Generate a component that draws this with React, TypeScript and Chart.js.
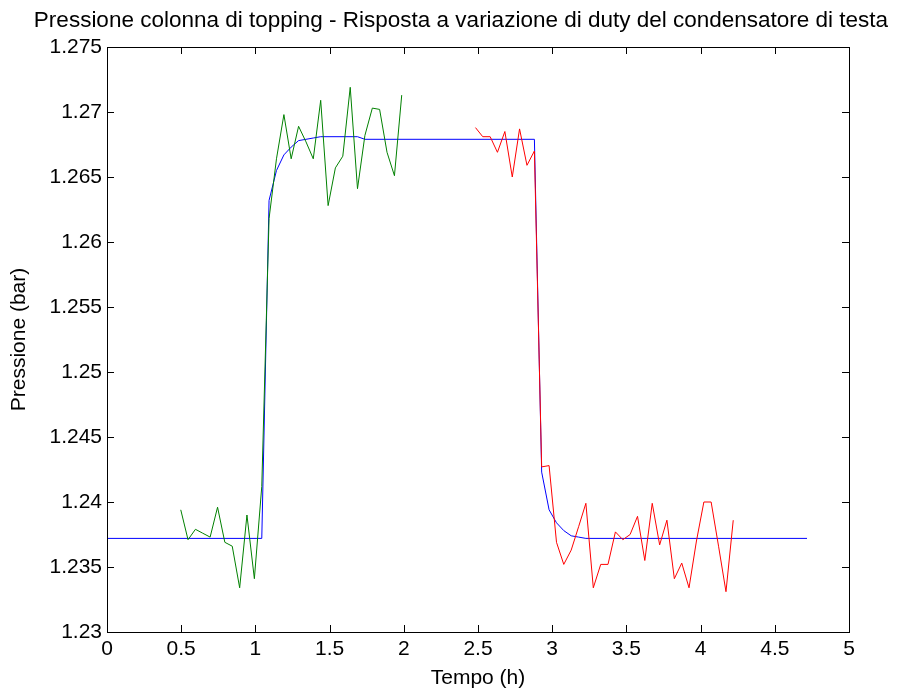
import React, { useEffect, useRef } from "react";
import { Chart, registerables } from "chart.js";

Chart.register(...registerables);

const titleText =
  "Pressione colonna di topping - Risposta a variazione di duty del condensatore di testa";
const xAxisLabel = "Tempo (h)";
const yAxisLabel = "Pressione (bar)";

const xTickValues = [0, 0.5, 1, 1.5, 2, 2.5, 3, 3.5, 4, 4.5, 5];
const yTickValues = [1.23, 1.235, 1.24, 1.245, 1.25, 1.255, 1.26, 1.265, 1.27, 1.275];

// Measured series (green)
const greenTime = [
  0.497, 0.546, 0.596, 0.645, 0.695, 0.745, 0.794, 0.844, 0.894, 0.943, 0.993, 1.043, 1.092,
  1.142, 1.192, 1.241, 1.291, 1.341, 1.39, 1.44, 1.49, 1.539, 1.589, 1.639, 1.688, 1.738,
  1.788, 1.837, 1.887, 1.937, 1.986,
];
const greenPressure = [
  1.2394, 1.2371, 1.2379, 1.2376, 1.2373, 1.2396, 1.2369, 1.2366, 1.2334, 1.239, 1.2341,
  1.2412, 1.2618, 1.2664, 1.2698, 1.2664, 1.2689, 1.2677, 1.2664, 1.2709, 1.2628, 1.2657,
  1.2666, 1.2719, 1.2641, 1.2682, 1.2703, 1.2702, 1.2669, 1.2651, 1.2713,
];

// Measured series (red)
const redTime = [
  2.483, 2.532, 2.582, 2.631, 2.681, 2.731, 2.78, 2.83, 2.88, 2.929, 2.979, 3.029, 3.078,
  3.128, 3.178, 3.227, 3.277, 3.327, 3.376, 3.426, 3.476, 3.525, 3.575, 3.624, 3.674, 3.724,
  3.773, 3.823, 3.873, 3.922, 3.972, 4.022, 4.071, 4.121, 4.171, 4.22,
];
const redPressure = [
  1.2688, 1.2681, 1.2681, 1.2669, 1.2685, 1.265, 1.2687, 1.2659, 1.267, 1.2427, 1.2428,
  1.2369, 1.2352, 1.2363, 1.2381, 1.2399, 1.2334, 1.2352, 1.2352, 1.2377, 1.2371, 1.2375,
  1.2389, 1.2355, 1.2399, 1.2367, 1.2386, 1.2341, 1.2353, 1.2334, 1.237, 1.24, 1.24,
  1.2366, 1.2331, 1.2386,
];

// Model response (blue)
const blueTime = [
  0, 1.043, 1.092, 1.142, 1.192, 1.241, 1.291, 1.341, 1.39, 1.44, 1.688, 1.738, 2.88, 2.929,
  2.979, 3.029, 3.078, 3.128, 3.178, 3.227, 4.717,
];
const bluePressure = [
  1.2372, 1.2372, 1.2632, 1.2655, 1.2667, 1.2673, 1.2678, 1.2679, 1.268, 1.2681, 1.2681,
  1.2679, 1.2679, 1.2423, 1.2394, 1.2384, 1.2378, 1.2374, 1.2373, 1.2372, 1.2372,
];

const FONT = '"Liberation Sans", Arial, Helvetica, sans-serif';

const toPoints = (xs: number[], ys: number[]) => xs.map((x, i) => ({ x, y: ys[i] }));

const matlabAxesPlugin = {
  id: "matlabAxes",
  afterDatasetsDraw(chart: any) {
    const { ctx, chartArea } = chart;
    const { left, right, top, bottom } = chartArea;
    const xs = chart.scales.x;
    const ys = chart.scales.y;
    const len = 7;
    ctx.save();
    ctx.strokeStyle = "#000";
    ctx.lineWidth = 1;
    ctx.beginPath();
    xs.ticks.forEach((t: any) => {
      const px = Math.round(xs.getPixelForValue(t.value)) + 0.5;
      ctx.moveTo(px, bottom);
      ctx.lineTo(px, bottom - len);
      ctx.moveTo(px, top);
      ctx.lineTo(px, top + len);
    });
    ys.ticks.forEach((t: any) => {
      const py = Math.round(ys.getPixelForValue(t.value)) + 0.5;
      ctx.moveTo(left, py);
      ctx.lineTo(left + len, py);
      ctx.moveTo(right, py);
      ctx.lineTo(right - len, py);
    });
    ctx.stroke();
    ctx.strokeRect(
      Math.round(left) + 0.5,
      Math.round(top) + 0.5,
      Math.round(right - left),
      Math.round(bottom - top)
    );
    ctx.restore();
  },
  afterDraw(chart: any) {
    const { ctx } = chart;
    ctx.save();
    ctx.fillStyle = "#000";
    ctx.font = `22.5px ${FONT}`;
    ctx.textAlign = "center";
    ctx.textBaseline = "middle";
    ctx.fillText(titleText, 461, 21);
    ctx.restore();
  },
};

export default function App() {
  const canvasRef = useRef<HTMLCanvasElement | null>(null);

  useEffect(() => {
    document.body.style.margin = "0";
    const canvas = canvasRef.current;
    if (!canvas) return;
    const chart = new Chart(canvas, {
      type: "line",
      data: {
        datasets: [
          {
            label: "Misure 1",
            data: toPoints(greenTime, greenPressure),
            borderColor: "#008000",
            borderWidth: 1,
            pointRadius: 0,
            tension: 0,
            fill: false,
          },
          {
            label: "Misure 2",
            data: toPoints(redTime, redPressure),
            borderColor: "#ff0000",
            borderWidth: 1,
            pointRadius: 0,
            tension: 0,
            fill: false,
          },
          {
            label: "Modello",
            data: toPoints(blueTime, bluePressure),
            borderColor: "#0000ff",
            borderWidth: 1,
            pointRadius: 0,
            tension: 0,
            fill: false,
          },
        ],
      },
      options: {
        animation: false,
        responsive: false,
        devicePixelRatio: 1,
        layout: { padding: { left: 0, right: 54, top: 47, bottom: 0 } },
        plugins: {
          legend: { display: false },
          tooltip: { enabled: false },
          title: { display: false },
        },
        scales: {
          x: {
            type: "linear",
            min: 0,
            max: 5,
            afterBuildTicks: (s: any) => {
              s.ticks = xTickValues.map((v) => ({ value: v }));
            },
            afterFit: (s: any) => {
              s.height = 61;
            },
            grid: { display: false, drawTicks: false },
            border: { display: false },
            ticks: {
              color: "#000",
              padding: 5,
              maxRotation: 0,
              autoSkip: false,
              font: { family: FONT, size: 21 },
              callback: (v: any) => String(v),
            },
            title: {
              display: true,
              text: xAxisLabel,
              color: "#000",
              font: { family: FONT, size: 21 },
              padding: { top: 0, bottom: 2 },
            },
          },
          y: {
            type: "linear",
            min: 1.23,
            max: 1.275,
            afterBuildTicks: (s: any) => {
              s.ticks = yTickValues.map((v) => ({ value: v }));
            },
            afterFit: (s: any) => {
              s.width = 107;
            },
            grid: { display: false, drawTicks: false },
            border: { display: false },
            ticks: {
              color: "#000",
              padding: 5,
              autoSkip: false,
              font: { family: FONT, size: 21 },
              callback: (v: any) => String(v),
            },
            title: {
              display: true,
              text: yAxisLabel,
              color: "#000",
              font: { family: FONT, size: 21 },
              padding: { top: 7, bottom: 0 },
            },
          },
        },
      },
      plugins: [matlabAxesPlugin],
    });
    return () => chart.destroy();
  }, []);

  return (
    <div
      style={{
        position: "absolute",
        left: 0,
        top: 0,
        width: 903,
        height: 693,
        background: "#fff",
      }}
    >
      <canvas ref={canvasRef} width={903} height={693} style={{ display: "block" }} />
    </div>
  );
}
